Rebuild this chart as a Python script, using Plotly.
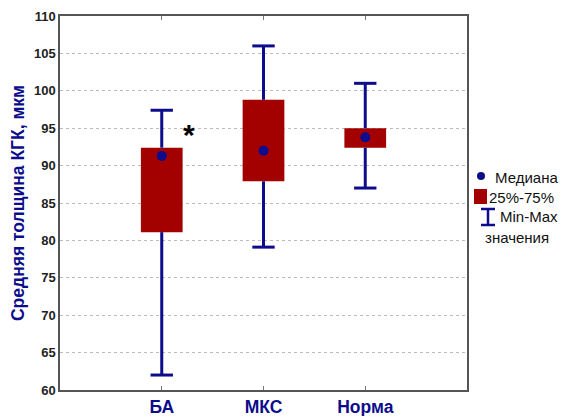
import plotly.graph_objects as go

categories = ["БА", "МКС", "Норма"]
q_min = [62.0, 79.1, 87.0]
q1 = [81.1, 87.9, 92.4]
median = [91.3, 92.0, 93.8]
q3 = [92.4, 98.8, 95.0]
q_max = [97.4, 106.0, 101.0]
y_ticks = [60, 65, 70, 75, 80, 85, 90, 95, 100, 105, 110]

NAVY = "#0c0c8c"
RED = "#a30000"

xs = list(range(len(categories)))
fig = go.Figure()

# boxes
fig.add_trace(go.Bar(x=xs, y=[b - a for a, b in zip(q1, q3)], base=q1, width=0.41,
                     marker=dict(color=RED, line=dict(width=0)), showlegend=False,
                     hoverinfo="skip"))

# whiskers
wx, wy = [], []
cap = 0.11
for i in xs:
    wx += [i, i, None, i, i, None]
    wy += [q3[i], q_max[i], None, q1[i], q_min[i], None]
    wx += [i - cap, i + cap, None, i - cap, i + cap, None]
    wy += [q_max[i], q_max[i], None, q_min[i], q_min[i], None]
fig.add_trace(go.Scatter(x=wx, y=wy, mode="lines", line=dict(color=NAVY, width=3),
                         showlegend=False, hoverinfo="skip"))

# medians
fig.add_trace(go.Scatter(x=xs, y=median, mode="markers",
                         marker=dict(color=NAVY, size=10), showlegend=False))

# asterisk
fig.add_annotation(x=0.27, y=94.2, text="<b>*</b>", showarrow=False,
                   font=dict(size=30, color="black", family="Arial"))

# page is offset by the 8px default body margin
OFF = 8
W, H = 568, 416
L, T = 60 - OFF, 16 - OFF
pw, ph = 407, 374
R = W - L - pw
B = H - T - ph
def px(x): return (x - OFF - L) / pw
def py(y): return (T + ph - (y - OFF)) / ph

fig.add_shape(type="circle", xref="paper", yref="paper",
              x0=px(477), x1=px(485), y0=py(180), y1=py(172),
              fillcolor=NAVY, line=dict(width=0))
fig.add_shape(type="rect", xref="paper", yref="paper",
              x0=px(474), x1=px(487), y0=py(204), y1=py(189),
              fillcolor=RED, line=dict(width=0))
for (xa, ya, xb, yb) in [(481, 209, 495, 209), (481, 225, 495, 225), (488, 209, 488, 225)]:
    fig.add_shape(type="line", xref="paper", yref="paper",
                  x0=px(xa), y0=py(ya), x1=px(xb), y1=py(yb),
                  line=dict(color=NAVY, width=2.5))
leg_font = dict(size=15, color="#111111", family="Arial")
for text, x, y in [("Медиана", 493, 177), ("25%-75%", 487, 197), ("Min-Max", 498, 217), ("значения", 483, 238)]:
    fig.add_annotation(xref="paper", yref="paper", x=px(x), y=py(y), text=text,
                       showarrow=False, xanchor="left", yanchor="middle", font=leg_font)

fig.update_layout(
    width=W, height=H,
    margin=dict(l=L, r=R, t=T, b=B),
    paper_bgcolor="white", plot_bgcolor="white",
    font=dict(family="Arial"),
    showlegend=False,
    xaxis=dict(range=[-1, 3], tickvals=xs, ticktext=[f"<b>{c}</b>" for c in categories],
               tickfont=dict(size=17.5, color=NAVY, family="Arial"),
               showgrid=False, showline=True, linecolor="#555555", linewidth=1.5,
               mirror="ticks", ticks="inside", ticklen=4, tickcolor="#777777",
               zeroline=False, ticklabelstandoff=0, automargin=False),
    yaxis=dict(range=[60, 110], tickvals=y_ticks, ticktext=[f"<b>{t}</b>" for t in y_ticks],
               tickfont=dict(size=13, color="#222222", family="Arial"),
               showgrid=True, gridcolor="#bbbbbb", griddash="dot", gridwidth=1,
               showline=True, linecolor="#555555", linewidth=1.5,
               mirror=True, ticks="", zeroline=False, automargin=False,
               title=dict(text="<b>Средняя толщина КГК, мкм</b>",
                          font=dict(size=17.5, color=NAVY, family="Arial"), standoff=6)),
)

fig.write_html("out.html")
